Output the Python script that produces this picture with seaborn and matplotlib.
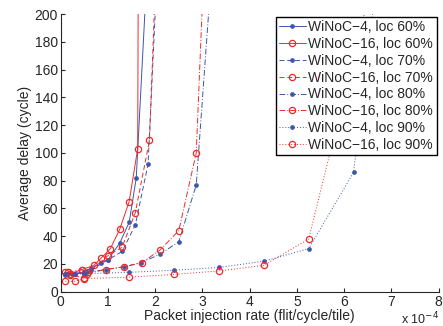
import numpy as np
import pandas as pd
import seaborn as sns
import matplotlib
matplotlib.use("Agg")
import matplotlib.pyplot as plt

# injection rate in units of 1e-4 flit/cycle/tile, delay in cycles
x_w4_60 = [0.1, 0.25, 0.5, 0.65, 0.85, 1.0, 1.25, 1.45, 1.6, 1.85]
y_w4_60 = [12, 13, 14, 17, 21, 23, 35, 50, 82, 245]
x_w16_60 = [0.1, 0.2, 0.45, 0.7, 0.85, 1.05, 1.25, 1.45, 1.63, 1.65]
y_w16_60 = [14, 13, 16, 19, 24, 31, 45, 65, 103, 300]
x_w4_70 = [0.15, 0.3, 0.5, 0.65, 1.0, 1.3, 1.58, 1.85, 2.05]
y_w4_70 = [13, 13, 14, 16, 23, 29, 48, 92, 236]
x_w16_70 = [0.15, 0.2, 0.5, 0.58, 1.0, 1.3, 1.58, 1.88, 2.02]
y_w16_70 = [14, 12, 10, 14, 26, 32, 57, 109, 236]
x_w4_80 = [0.1, 0.3, 0.55, 0.95, 1.35, 1.7, 2.1, 2.5, 2.87, 3.2]
y_w4_80 = [13, 13, 14, 16, 18, 21, 27, 36, 77, 233]
x_w16_80 = [0.15, 0.45, 0.55, 0.95, 1.35, 1.72, 2.1, 2.5, 2.87, 3.03]
y_w16_80 = [14, 16, 13, 16, 18, 21, 30, 44, 100, 233]
x_w4_90 = [0.1, 0.5, 1.45, 2.4, 3.35, 4.3, 5.25, 6.2, 6.7]
y_w4_90 = [12.5, 13, 14, 15.5, 17.5, 22, 31, 86, 228]
x_w16_90 = [0.1, 0.3, 0.5, 1.45, 2.4, 3.35, 4.3, 5.25, 6.5]
y_w16_90 = [7.5, 7.5, 9.5, 10.5, 12.5, 15, 19, 38, 210]

series = [
    ("WiNoC\u22124, loc 60%", x_w4_60, y_w4_60),
    ("WiNoC\u221216, loc 60%", x_w16_60, y_w16_60),
    ("WiNoC\u22124, loc 70%", x_w4_70, y_w4_70),
    ("WiNoC\u221216, loc 70%", x_w16_70, y_w16_70),
    ("WiNoC\u22124, loc 80%", x_w4_80, y_w4_80),
    ("WiNoC\u221216, loc 80%", x_w16_80, y_w16_80),
    ("WiNoC\u22124, loc 90%", x_w4_90, y_w4_90),
    ("WiNoC\u221216, loc 90%", x_w16_90, y_w16_90),
]

blue = "#3a58aa"
red = "#ee2a2a"
styles = ["-", "-", (0, (5, 3)), (0, (5, 3)), (0, (6, 2, 1, 2)), (0, (6, 2, 1, 2)),
          (0, (1, 2)), (0, (1, 2))]

sns.set_style("ticks")
plt.rcParams["font.family"] = ["Liberation Sans", "DejaVu Sans"]

fig, ax = plt.subplots(figsize=(4.43, 3.26), dpi=100)
fig.subplots_adjust(left=0.137, right=0.99, top=0.957, bottom=0.105)

for i, (name, xs, ys) in enumerate(series):
    df = pd.DataFrame({"x": xs, "y": ys})
    if i % 2 == 0:
        sns.lineplot(data=df, x="x", y="y", ax=ax, sort=False, estimator=None,
                     color=blue, linestyle=styles[i], linewidth=0.7, marker="o",
                     markersize=2.6, markerfacecolor=blue, markeredgecolor=blue,
                     label=name)
    else:
        sns.lineplot(data=df, x="x", y="y", ax=ax, sort=False, estimator=None,
                     color=red, linestyle=styles[i], linewidth=0.7, marker="o",
                     markersize=4.5, markerfacecolor="none", markeredgecolor=red,
                     markeredgewidth=0.9, label=name)

ax.set_xlim(0, 8)
ax.set_ylim(0, 200)
ax.set_xticks(range(0, 9))
ax.set_yticks(range(0, 201, 20))
ax.tick_params(direction="in", length=3, labelsize=10, pad=2)
ax.set_xlabel("Packet injection rate (flit/cycle/tile)", fontsize=10, labelpad=0)
ax.set_ylabel("Average delay (cycle)", fontsize=10, labelpad=2)
sns.despine(ax=ax)
ax.text(1.0, -0.068, "x 10$^{-4}$", transform=ax.transAxes, ha="right", va="top", fontsize=9)

leg = ax.legend(loc="upper right", bbox_to_anchor=(0.995, 0.99), fontsize=10,
                frameon=True, fancybox=False, edgecolor="black", handlelength=1.9,
                handletextpad=0.2, borderpad=0.25, labelspacing=0.2, borderaxespad=0)
leg.get_frame().set_linewidth(1.0)
leg.get_frame().set_alpha(1)

fig.savefig("out.png", dpi=100)
